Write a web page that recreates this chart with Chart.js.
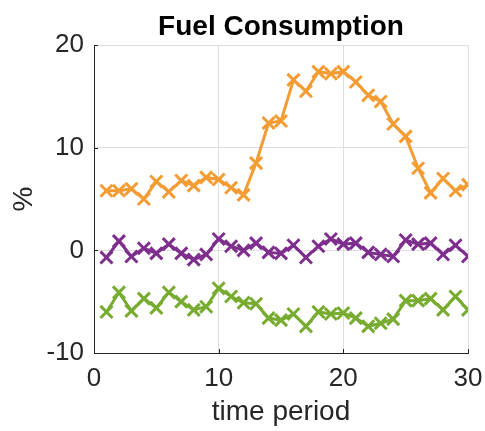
<!DOCTYPE html>
<html>
<head>
<meta charset="utf-8">
<title>Fuel Consumption</title>
<script src="https://cdn.jsdelivr.net/npm/chart.js@4.4.1/dist/chart.umd.min.js"></script>
<style>
  html, body { margin: 0; padding: 0; background: #ffffff; }
  #wrap { width: 485px; height: 431px; position: relative; }
</style>
</head>
<body>
<div id="wrap"><canvas id="chart"></canvas></div>
<script>
// Time periods on the horizontal axis
const periods = [1, 2, 3, 4, 5, 6, 7, 8, 9, 10, 11, 12, 13, 14, 15,
                 16, 17, 18, 19, 20, 21, 22, 23, 24, 25, 26, 27, 28, 29, 30];

// Percentage series
const seriesOrange = [5.8, 5.8, 6.0, 5.0, 6.7, 5.7, 6.8, 6.3, 7.1, 6.9,
                      6.1, 5.4, 8.5, 12.4, 12.6, 16.6, 15.5, 17.4, 17.2, 17.4,
                      16.4, 15.1, 14.5, 12.3, 11.1, 8.0, 5.6, 7.0, 5.8, 6.4];
const seriesPurple = [-0.7, 0.9, -0.6, 0.2, -0.3, 0.6, -0.3, -0.9, -0.4, 1.1,
                      0.4, 0.0, 0.7, -0.2, -0.3, 0.5, -0.7, 0.4, 1.1, 0.6,
                      0.7, -0.2, -0.4, -0.6, 1.0, 0.6, 0.7, -0.4, 0.5, -0.6];
const seriesGreen  = [-6.0, -4.1, -5.9, -4.7, -5.6, -4.1, -5.0, -5.8, -5.5, -3.7,
                      -4.5, -5.1, -5.2, -6.6, -6.8, -6.2, -7.4, -6.0, -6.2, -6.1,
                      -6.6, -7.4, -7.1, -6.7, -4.9, -4.9, -4.7, -5.8, -4.5, -5.8];

// Axis ticks
const xTicks = [0, 10, 20, 30];
const yTicks = [-10, 0, 10, 20];

const FONT = "'Liberation Sans', Arial, Helvetica, sans-serif";
const TEXT = '#262626';
const GRID = '#dedede';

function toPoints(values) {
  return values.map((v, i) => ({ x: periods[i], y: v }));
}

function lineSet(label, values, color) {
  return {
    label: label,
    data: toPoints(values),
    borderColor: color,
    backgroundColor: color,
    borderWidth: 3,
    pointStyle: 'crossRot',
    pointRadius: 8.5,
    pointBorderWidth: 3,
    pointHoverRadius: 8.5,
    tension: 0,
    fill: false
  };
}

// Title centred over the plotting area
const areaTitle = {
  id: 'areaTitle',
  afterDraw(chart) {
    const { ctx, chartArea } = chart;
    ctx.save();
    ctx.fillStyle = '#000000';
    ctx.font = 'bold 28px ' + FONT;
    ctx.textAlign = 'center';
    ctx.textBaseline = 'alphabetic';
    ctx.fillText('Fuel Consumption', (chartArea.left + chartArea.right) / 2, 35);
    ctx.restore();
  }
};

// Short inward tick marks on the left and bottom axes
const innerTicks = {
  id: 'innerTicks',
  afterDatasetsDraw(chart) {
    const { ctx, chartArea, scales } = chart;
    const len = 4;
    ctx.save();
    ctx.strokeStyle = TEXT;
    ctx.lineWidth = 1;
    ctx.beginPath();
    xTicks.forEach(v => {
      const px = Math.round(scales.x.getPixelForValue(v)) + 0.5;
      ctx.moveTo(px, chartArea.bottom);
      ctx.lineTo(px, chartArea.bottom - len);
    });
    yTicks.forEach(v => {
      const py = Math.round(scales.y.getPixelForValue(v)) + 0.5;
      ctx.moveTo(chartArea.left, py);
      ctx.lineTo(chartArea.left + len, py);
    });
    ctx.stroke();
    ctx.restore();
  }
};

new Chart(document.getElementById('chart'), {
  type: 'line',
  data: {
    datasets: [
      lineSet('orange', seriesOrange, '#f39c33'),
      lineSet('purple', seriesPurple, '#7e2f8e'),
      lineSet('green', seriesGreen, '#77ac30')
    ]
  },
  options: {
    responsive: true,
    maintainAspectRatio: false,
    animation: false,
    events: [],
    layout: { padding: { left: 0, right: 17, top: 45, bottom: 0 } },
    plugins: {
      legend: { display: false },
      title: { display: false },
      tooltip: { enabled: false }
    },
    scales: {
      x: {
        type: 'linear',
        min: 0,
        max: 30,
        afterBuildTicks(scale) { scale.ticks = xTicks.map(v => ({ value: v })); },
        afterFit(scale) {
          scale.height = 78;
          scale.paddingLeft = 0;
          scale.paddingRight = 0;
        },
        grid: { color: GRID, lineWidth: 1, drawTicks: false },
        border: { display: true, color: TEXT, width: 1 },
        ticks: {
          color: TEXT,
          font: { family: FONT, size: 26 },
          padding: 10,
          maxRotation: 0
        },
        title: {
          display: true,
          text: 'time period',
          color: TEXT,
          font: { family: FONT, size: 28 },
          padding: { top: 0, bottom: 2 }
        }
      },
      y: {
        type: 'linear',
        min: -10,
        max: 20,
        afterBuildTicks(scale) { scale.ticks = yTicks.map(v => ({ value: v })); },
        afterFit(scale) {
          scale.width = 94;
          scale.paddingTop = 0;
          scale.paddingBottom = 0;
        },
        grid: { color: GRID, lineWidth: 1, drawTicks: false },
        border: { display: true, color: TEXT, width: 1 },
        ticks: {
          color: TEXT,
          font: { family: FONT, size: 26 },
          padding: 10
        },
        title: {
          display: true,
          text: '%',
          color: TEXT,
          font: { family: FONT, size: 28 },
          padding: { top: 7, bottom: 0 }
        }
      }
    }
  },
  plugins: [areaTitle, innerTicks]
});
</script>
</body>
</html>
